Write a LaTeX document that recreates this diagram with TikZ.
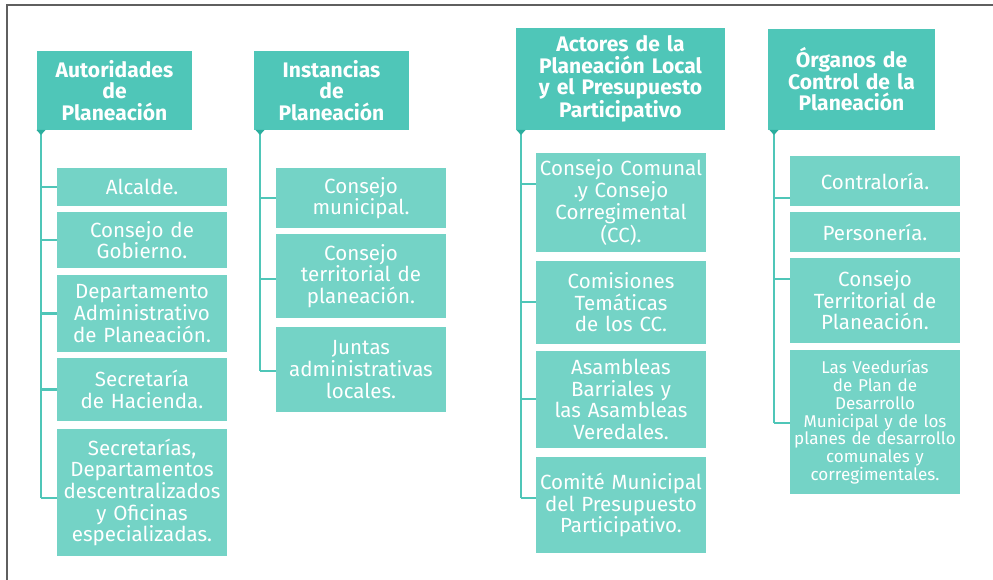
\documentclass[tikz,border=0pt]{standalone}
\usepackage{fontspec}
\setmainfont{Fira Sans}
\usetikzlibrary{calc}
\definecolor{hdrc}{HTML}{4FC6B8}
\definecolor{boxc}{HTML}{74D3C6}
\definecolor{linec}{HTML}{4FC6B8}
\definecolor{tric}{HTML}{2BAE9E}
\definecolor{framec}{HTML}{5F5F5F}
\begin{document}
\begin{tikzpicture}[x=0.75pt,y=-0.75pt,
  hdr/.style={fill=hdrc, text=white, font=\bfseries\fontsize{15.8}{16.2}\selectfont, align=center, inner sep=0pt},
  cbox/.style={fill=boxc, text=white, font=\fontsize{15.4}{16.2}\selectfont, align=center, inner sep=0pt, minimum width=127.5pt, text width=125pt},
  conn/.style={draw=linec, line width=2.2pt},
  tri/.style={fill=tric},
  frame/.style={draw=framec, line width=1.5pt}
]
\useasboundingbox (0,0) rectangle (993,580);
\draw[frame] (7,580) -- (7,5) -- (993,5);

% ---------- Column 1 ----------
\node[hdr, minimum width=116.25pt, minimum height=59.25pt, text width=114pt] (h1) at (114.5,90.5) {Autoridades\\de\\Planeación};
\node[cbox, minimum height=28.5pt] (c11) at (142,187) {Alcalde.};
\node[cbox, minimum height=42pt] (c12) at (142,240) {Consejo de\\Gobierno.};
\node[cbox, minimum height=57.75pt] (c13) at (142,313.5) {Departamento\\Administrativo\\de Planeación.};
\node[cbox, minimum height=47.25pt] (c14) at (142,389.5) {Secretaría\\de Hacienda.};
\node[cbox, minimum height=95.25pt] (c15) at (142,492.5) {Secretarías,\\Departamentos\\descentralizados\\y Oficinas\\especializadas.};
\coordinate (t1) at (41,130);
\coordinate (b15) at (41,498);
\draw[conn] (t1) -- (b15);
\draw[conn] (t1 |- c11.west) -- (c11.west);
\draw[conn] (t1 |- c12.west) -- (c12.west);
\draw[conn] (t1 |- c13.west) -- (c13.west);
\draw[conn] (t1 |- c14.west) -- (c14.west);
\draw[conn] (b15) -- (b15 -| c15.west);
\fill[tri] (t1) ++(-4.5,0) -- ++(9,0) -- ++(-4.5,5) -- cycle;

% ---------- Column 2 ----------
\node[hdr, minimum width=116.25pt, minimum height=59.25pt, text width=114pt] (h2) at (331.5,90.5) {Instancias\\de\\Planeación};
\node[cbox, minimum height=45pt] (c21) at (361,198) {Consejo\\municipal.};
\node[cbox, minimum height=63pt] (c22) at (361,276) {Consejo\\territorial de\\planeación.};
\node[cbox, minimum height=63.75pt] (c23) at (361,369.5) {Juntas\\administrativas\\locales.};
\coordinate (t2) at (260,130);
\coordinate (b21) at (260,198);
\coordinate (b22) at (260,279);
\coordinate (b23) at (260,371);
\draw[conn] (t2) -- (b23);
\draw[conn] (b21) -- (b21 -| c21.west);
\draw[conn] (b22) -- (b22 -| c22.west);
\draw[conn] (b23) -- (b23 -| c23.west);
\fill[tri] (t2) ++(-4.5,0) -- ++(9,0) -- ++(-4.5,5) -- cycle;

% ---------- Column 3 ----------
\node[hdr, minimum width=156.75pt, minimum height=76.5pt, text width=154pt] (h3) at (620.5,79) {Actores de la\\Planeación Local\\y el Presupuesto\\Participativo};
\node[cbox, minimum height=74.25pt] (c31) at (621,202.5) {Consejo Comunal\\.y Consejo\\Corregimental\\(CC).};
\node[cbox, minimum height=62.25pt] (c32) at (621,302.5) {Comisiones\\Temáticas\\de los CC.};
\node[cbox, minimum height=72.75pt] (c33) at (621,399.5) {Asambleas\\Barriales y\\las Asambleas\\Veredales.};
\node[cbox, minimum height=72pt] (c34) at (621,505) {Comité Municipal\\del Presupuesto\\Participativo.};
\coordinate (t3) at (521,130);
\coordinate (b31) at (521,184);
\coordinate (b32) at (521,302);
\coordinate (b33) at (521,399);
\coordinate (b34) at (521,498);
\draw[conn] (t3) -- (b34);
\draw[conn] (b31) -- (b31 -| c31.west);
\draw[conn] (b32) -- (b32 -| c32.west);
\draw[conn] (b33) -- (b33 -| c33.west);
\draw[conn] (b34) -- (b34 -| c34.west);
\fill[tri] (t3) ++(-4.5,0) -- ++(9,0) -- ++(-4.5,5) -- cycle;

% ---------- Column 4 ----------
\node[hdr, minimum width=125.25pt, minimum height=75.75pt, text width=123pt] (h4) at (851.5,79.5) {Órganos de\\Control de la\\Planeación};
\node[cbox, minimum height=37.5pt] (c41) at (875,181) {Contraloría.};
\node[cbox, minimum height=30pt] (c42) at (875,232) {Personería.};
\node[cbox, minimum height=63.75pt] (c43) at (875,300.5) {Consejo\\Territorial de\\Planeación.};
\node[cbox, minimum height=108pt, font=\fontsize{12.8}{13.3}\selectfont] (c44) at (875,422) {Las Veedurías\\de Plan de\\Desarrollo\\Municipal y de los\\planes de desarrollo\\comunales y\\corregimentales.};
\coordinate (t4) at (774,130);
\coordinate (b41) at (774,198);
\coordinate (b43) at (774,279);
\coordinate (b44) at (774,423);
\draw[conn] (t4) -- (b44);
\draw[conn] (b41) -- (b41 -| c41.west);
\draw[conn] (b43) -- (b43 -| c43.west);
\draw[conn] (b44) -- (b44 -| c44.west);
\fill[tri] (t4) ++(-4.5,0) -- ++(9,0) -- ++(-4.5,5) -- cycle;
\end{tikzpicture}
\end{document}
